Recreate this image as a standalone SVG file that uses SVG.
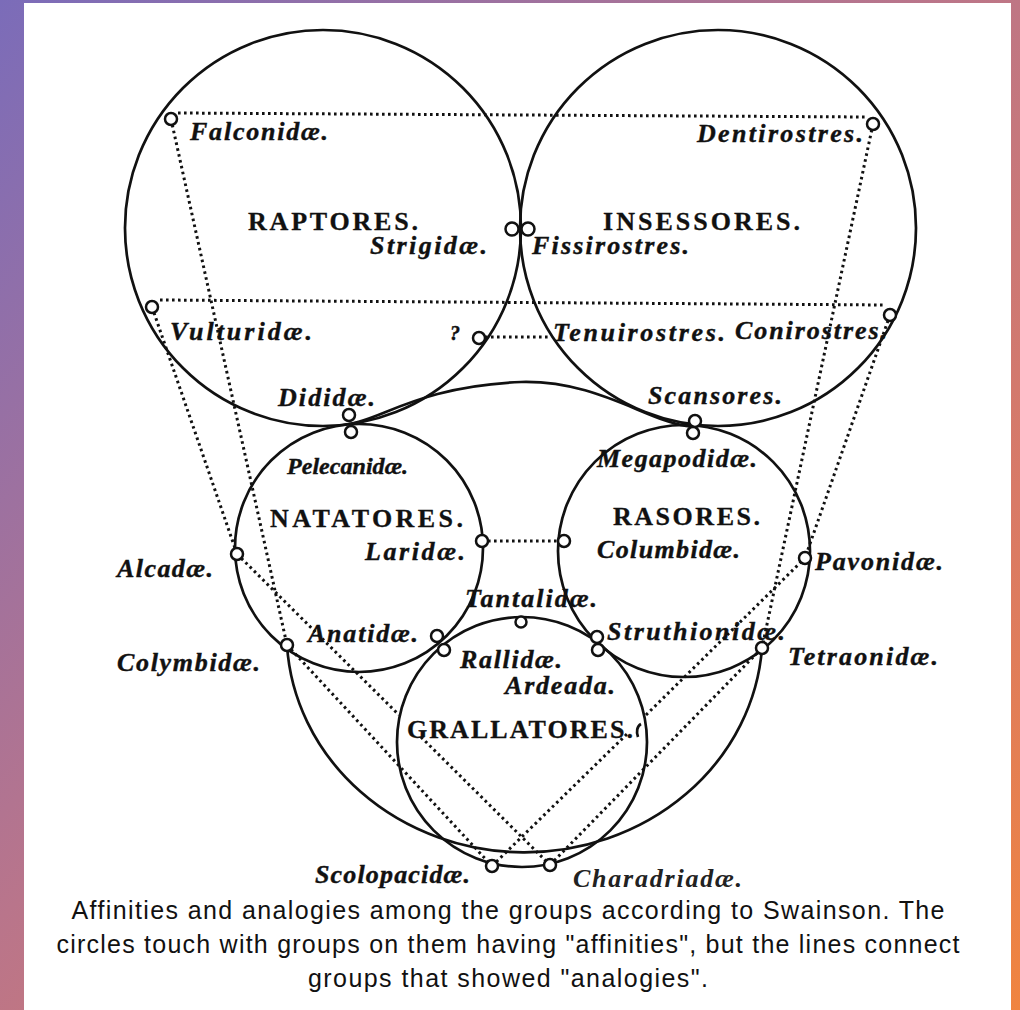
<svg xmlns="http://www.w3.org/2000/svg" width="1020" height="1010" viewBox="0 0 1020 1010">
<defs>
<linearGradient id="bg" x1="0" y1="0" x2="1020" y2="1010" gradientUnits="userSpaceOnUse">
<stop offset="0" stop-color="#7b6cb9"/>
<stop offset="0.45" stop-color="#b9758b"/>
<stop offset="0.75" stop-color="#d97a66"/>
<stop offset="1" stop-color="#f0843f"/>
</linearGradient>
<style>
.c{fill:none;stroke:#111;stroke-width:2.7}
.d{fill:none;stroke:#111;stroke-width:3;stroke-dasharray:2.6 3.4}
.n{fill:#fff;stroke:#111;stroke-width:2.5}
.lab{font-family:"Liberation Serif","DejaVu Serif",serif;font-weight:bold;font-style:italic;font-size:26px;fill:#111;stroke:#111;stroke-width:0.4}
.hd{font-family:"Liberation Serif","DejaVu Serif",serif;font-weight:bold;font-size:26px;fill:#111;stroke:#111;stroke-width:0.3}
.cap{font-family:"Liberation Sans",Arial,sans-serif;font-size:25px;fill:#111}
.thin{stroke-width:0;fill:#222}
.sm{font-size:24px}
.q{font-size:20px}
</style>
</defs>
<rect x="0" y="0" width="1020" height="1010" fill="url(#bg)"/>
<rect x="24" y="3" width="987" height="1007" fill="#fff"/>

<g id="raptores"><circle class="c" cx="323" cy="228" r="198"/><text class="hd" x="248" y="230" textLength="170" lengthAdjust="spacing">RAPTORES.</text></g>
<g id="insessores"><circle class="c" cx="718" cy="228" r="198"/><text class="hd" x="603" y="230" textLength="197" lengthAdjust="spacing">INSESSORES.</text></g>
<g id="natatores"><circle class="c" cx="359" cy="548" r="124"/><text class="hd" x="270" y="527" textLength="193" lengthAdjust="spacing">NATATORES.</text></g>
<g id="rasores"><circle class="c" cx="684" cy="551" r="126"/><text class="hd" x="613" y="525" textLength="147" lengthAdjust="spacing">RASORES.</text></g>
<g id="grallatores"><circle class="c" cx="522" cy="742" r="125"/><text class="hd" x="407" y="738" textLength="226" lengthAdjust="spacing">GRALLATORES.</text><path class="c" stroke-width="2" d="M641,724 c-4,2 -5,8 -3,13"/></g>
<g id="outer"><path class="c" d="M349,424 C380,420 420,386 521,382 C600,380 650,424 694,427"/><path class="c" d="M287,645 A238 220 0 0 0 762,648"/></g>

<g id="connectors">
<line class="d" x1="178" y1="113" x2="867" y2="117"/>
<line class="d" x1="160" y1="300" x2="884" y2="305"/>
<line class="d" x1="171" y1="119" x2="287" y2="645"/>
<line class="d" x1="152" y1="307" x2="237" y2="554"/>
<line class="d" x1="873" y1="124" x2="762" y2="648"/>
<line class="d" x1="890" y1="315" x2="805" y2="558"/>
<line class="d" x1="479" y1="337" x2="548" y2="337"/>
<line class="d" x1="482" y1="541" x2="564" y2="541"/>
<line class="d" x1="237" y1="554" x2="399" y2="715"/>
<line class="d" x1="421" y1="737" x2="550" y2="865"/>
<line class="d" x1="287" y1="645" x2="492" y2="866"/>
<line class="d" x1="492" y1="866" x2="627" y2="734"/>
<line class="d" x1="646" y1="715" x2="805" y2="558"/>
<line class="d" x1="550" y1="865" x2="762" y2="648"/>
</g>

<g id="falconidae"><circle class="n" cx="171" cy="119" r="6"/><text class="lab" x="190" y="140" textLength="138" lengthAdjust="spacing">Falconidæ.</text></g>
<g id="dentirostres"><circle class="n" cx="873" cy="124" r="6"/><text class="lab" x="697" y="142" textLength="166" lengthAdjust="spacing">Dentirostres.</text></g>
<g id="strigidae"><circle class="n" cx="512" cy="229" r="6.5"/><text class="lab" x="370" y="254" textLength="117" lengthAdjust="spacing">Strigidæ.</text></g>
<g id="fissirostres"><circle class="n" cx="528" cy="229" r="6.5"/><text class="lab" x="532" y="254" textLength="157" lengthAdjust="spacing">Fissirostres.</text></g>
<g id="vulturidae"><circle class="n" cx="152" cy="307" r="6"/><text class="lab" x="170" y="340" textLength="142" lengthAdjust="spacing">Vulturidæ.</text></g>
<g id="unknown"><circle class="n" cx="479" cy="338" r="6"/><text class="lab q" x="450" y="340">?</text></g>
<g id="tenuirostres"><text class="lab" x="553" y="341" textLength="172" lengthAdjust="spacing">Tenuirostres.</text></g>
<g id="conirostres"><circle class="n" cx="890" cy="315" r="6"/><text class="lab" x="735" y="339" textLength="152" lengthAdjust="spacing">Conirostres.</text></g>
<g id="dididae"><circle class="n" cx="349" cy="415" r="6"/><text class="lab" x="278" y="406" textLength="97" lengthAdjust="spacing">Dididæ.</text></g>
<g id="pelecanidae"><circle class="n" cx="351" cy="432" r="6"/><text class="lab sm" x="287" y="474" textLength="121" lengthAdjust="spacing">Pelecanidæ.</text></g>
<g id="scansores"><circle class="n" cx="695" cy="421" r="6"/><text class="lab" x="648" y="404" textLength="134" lengthAdjust="spacing">Scansores.</text></g>
<g id="megapodidae"><circle class="n" cx="693" cy="433" r="6"/><text class="lab" x="597" y="467" textLength="160" lengthAdjust="spacing">Megapodidæ.</text></g>
<g id="laridae"><circle class="n" cx="482" cy="541" r="6"/><text class="lab" x="365" y="560" textLength="100" lengthAdjust="spacing">Laridæ.</text></g>
<g id="columbidae"><circle class="n" cx="564" cy="541" r="6"/><text class="lab" x="597" y="558" textLength="143" lengthAdjust="spacing">Columbidæ.</text></g>
<g id="alcadae"><circle class="n" cx="237" cy="554" r="6"/><text class="lab" x="117" y="577" textLength="96" lengthAdjust="spacing">Alcadæ.</text></g>
<g id="pavonidae"><circle class="n" cx="805" cy="558" r="6"/><text class="lab" x="815" y="570" textLength="128" lengthAdjust="spacing">Pavonidæ.</text></g>
<g id="tantalidae"><circle class="n" cx="521" cy="622" r="5.5"/><text class="lab" x="465" y="607" textLength="132" lengthAdjust="spacing">Tantalidæ.</text></g>
<g id="anatidae"><circle class="n" cx="437" cy="636" r="6"/><text class="lab" x="308" y="642" textLength="110" lengthAdjust="spacing">Anatidæ.</text></g>
<g id="rallidae"><circle class="n" cx="444" cy="650" r="6"/><text class="lab" x="460" y="668" textLength="102" lengthAdjust="spacing">Rallidæ.</text></g>
<g id="struthionidae"><circle class="n" cx="597" cy="637" r="6"/><circle class="n" cx="598" cy="650" r="6"/><text class="lab" x="607" y="640" textLength="178" lengthAdjust="spacing">Struthionidæ.</text></g>
<g id="ardeada"><text class="lab" x="505" y="694" textLength="110" lengthAdjust="spacing">Ardeada.</text></g>
<g id="colymbidae"><circle class="n" cx="287" cy="645" r="6"/><text class="lab" x="117" y="671" textLength="143" lengthAdjust="spacing">Colymbidæ.</text></g>
<g id="tetraonidae"><circle class="n" cx="762" cy="648" r="6"/><text class="lab" x="788" y="665" textLength="150" lengthAdjust="spacing">Tetraonidæ.</text></g>
<g id="scolopacidae"><circle class="n" cx="492" cy="866" r="6"/><text class="lab" x="315" y="883" textLength="155" lengthAdjust="spacing">Scolopacidæ.</text></g>
<g id="charadriadae"><circle class="n" cx="550" cy="865" r="6"/><text class="lab thin" x="573" y="887" textLength="169" lengthAdjust="spacing">Charadriadæ.</text></g>

<g id="caption">
<text class="cap" x="508" y="919" text-anchor="middle" textLength="873" lengthAdjust="spacing">Affinities and analogies among the groups according to Swainson. The</text>
<text class="cap" x="508" y="953" text-anchor="middle" textLength="903" lengthAdjust="spacing">circles touch with groups on them having "affinities", but the lines connect</text>
<text class="cap" x="508" y="987" text-anchor="middle" textLength="400" lengthAdjust="spacing">groups that showed "analogies".</text>
</g>
</svg>
